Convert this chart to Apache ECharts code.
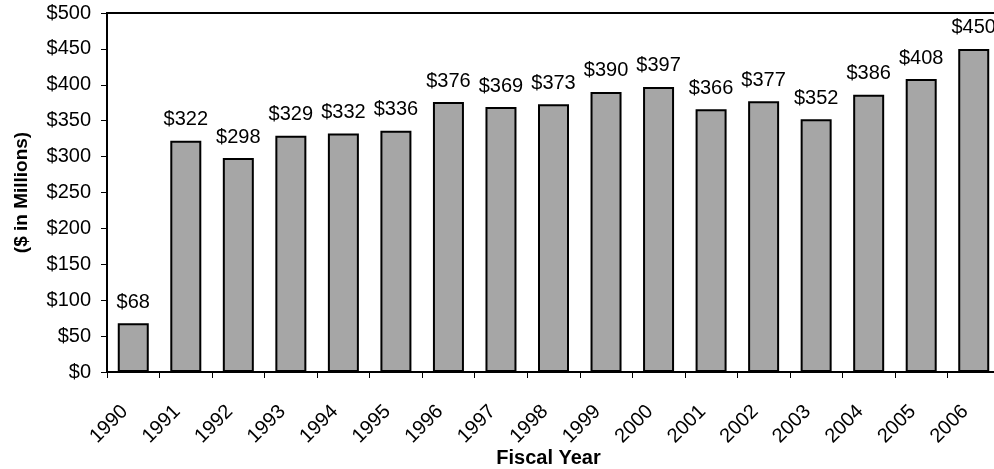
<!DOCTYPE html>
<html>
<head>
<meta charset="utf-8">
<script src="https://cdn.jsdelivr.net/npm/echarts@6/dist/echarts.min.js"></script>
<style>
  html, body { margin: 0; padding: 0; background: #fff; }
  #chart { width: 994px; height: 469px; }
</style>
</head>
<body>
<div id="chart"></div>
<script>
// fiscal years and funding ($ millions)
const years = ["1990", "1991", "1992", "1993", "1994", "1995", "1996", "1997", "1998",
  "1999", "2000", "2001", "2002", "2003", "2004", "2005", "2006"];
const funding = [68, 322, 298, 329, 332, 336, 376, 369, 373, 390, 397, 366, 377, 352, 386, 408, 450];

const font = "Liberation Sans, Arial, sans-serif";

const chart = echarts.init(document.getElementById("chart"));
const option = {
  animation: false,
  textStyle: { fontFamily: font },
  grid: {
    left: 107,
    right: -6,
    top: 13,
    bottom: 97,
    outerBoundsMode: "none",
    containLabel: false,
    show: true,
    borderColor: "#000",
    borderWidth: 2,
    backgroundColor: "transparent",
  },
  xAxis: {
    type: "category",
    data: years,
    name: "Fiscal Year",
    nameLocation: "middle",
    nameGap: 76,
    nameMoveOverlap: false,
    nameTextStyle: {
      fontFamily: font,
      fontSize: 20,
      fontWeight: "bold",
      color: "#000",
      padding: [0, 10, 0, 0],
    },
    axisLine: { lineStyle: { color: "#000", width: 2 } },
    axisTick: { show: true, length: 6, lineStyle: { color: "#000" } },
    axisLabel: {
      rotate: 45,
      margin: 28,
      padding: [0, 12, 0, 0],
      fontSize: 20,
      color: "#000",
      fontFamily: font,
      interval: 0,
    },
  },
  yAxis: {
    type: "value",
    min: 0,
    max: 500,
    interval: 50,
    name: "($ in Millions)",
    nameLocation: "middle",
    nameRotate: 90,
    nameGap: 76,
    nameMoveOverlap: false,
    nameTextStyle: {
      fontFamily: font,
      fontSize: 19,
      fontWeight: "bold",
      color: "#000",
    },
    axisLine: { show: true, lineStyle: { color: "#000", width: 2 } },
    axisTick: { show: true, length: 6, lineStyle: { color: "#000" } },
    splitLine: { show: false },
    axisLabel: {
      margin: 16,
      fontSize: 20,
      color: "#000",
      fontFamily: font,
      formatter: (v) => "$" + v,
    },
  },
  series: [
    {
      type: "bar",
      data: funding,
      barWidth: 31,
      itemStyle: {
        color: "#a6a6a6",
        borderColor: "#000",
        borderWidth: 2,
      },
      label: {
        show: true,
        position: "top",
        distance: 11,
        fontSize: 20,
        color: "#000",
        fontFamily: font,
        formatter: (p) => "$" + p.value,
      },
    },
  ],
};
chart.setOption(option);
</script>
</body>
</html>
